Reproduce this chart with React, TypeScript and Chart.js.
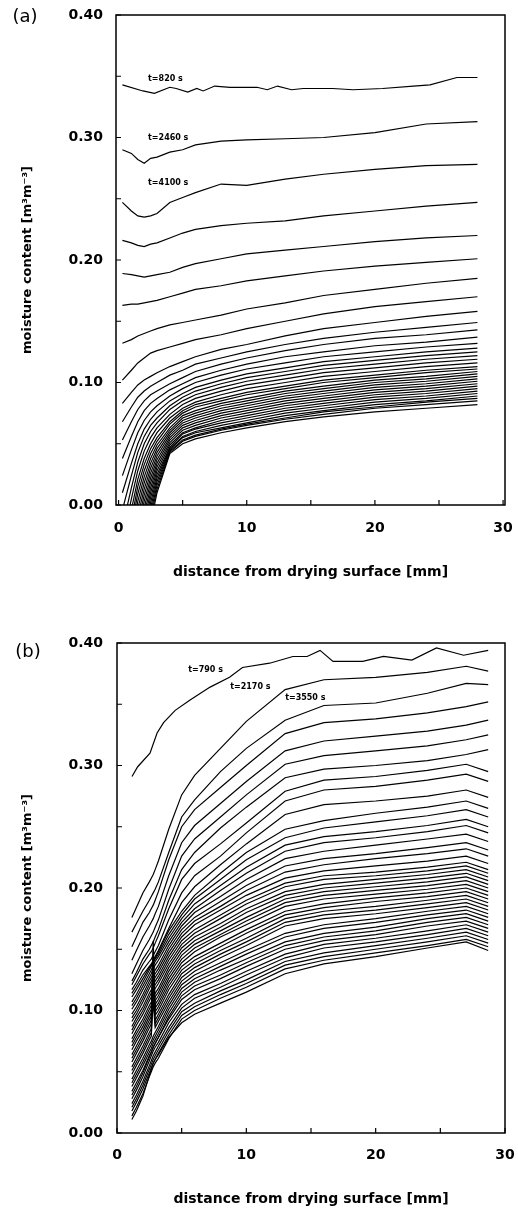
import React, { useEffect, useRef } from "react";
import { Chart, registerables } from "chart.js";

Chart.register(...registerables);

// ---------- Panel (a) data ----------
const distanceA = [0.3, 1, 1.5, 2, 2.5, 3, 4, 5, 6, 8, 10, 13, 16, 20, 24, 28];
const t820Distance = [0.3, 1.9, 2.8, 4.0, 4.5, 5.4, 6.1, 6.6, 7.5, 8.7, 10.8, 11.6, 12.4, 13.5, 14.4, 16.7, 18.3, 20.6, 23.0, 24.3, 26.4, 28.0];
const t820Moisture = [0.343, 0.338, 0.336, 0.341, 0.340, 0.337, 0.340, 0.338, 0.342, 0.341, 0.341, 0.339, 0.342, 0.339, 0.340, 0.340, 0.339, 0.340, 0.342, 0.343, 0.349, 0.349];
const profilesA: (number | null)[][] = [
  [0.290, 0.287, 0.282, 0.279, 0.283, 0.284, 0.288, 0.290, 0.294, 0.297, 0.298, 0.299, 0.300, 0.304, 0.311, 0.313],
  [0.247, 0.240, 0.236, 0.235, 0.236, 0.238, 0.247, 0.251, 0.255, 0.262, 0.261, 0.266, 0.270, 0.274, 0.277, 0.278],
  [0.216, 0.214, 0.212, 0.211, 0.213, 0.214, 0.218, 0.222, 0.225, 0.228, 0.230, 0.232, 0.236, 0.240, 0.244, 0.247],
  [0.189, 0.188, 0.187, 0.186, 0.187, 0.188, 0.190, 0.194, 0.197, 0.201, 0.205, 0.208, 0.211, 0.215, 0.218, 0.220],
  [0.163, 0.164, 0.164, 0.165, 0.166, 0.167, 0.170, 0.173, 0.176, 0.179, 0.183, 0.187, 0.191, 0.195, 0.198, 0.201],
  [0.132, 0.135, 0.138, 0.140, 0.142, 0.144, 0.147, 0.149, 0.151, 0.155, 0.160, 0.165, 0.171, 0.176, 0.181, 0.185],
  [0.102, 0.110, 0.116, 0.120, 0.124, 0.126, 0.129, 0.132, 0.135, 0.139, 0.144, 0.150, 0.156, 0.162, 0.166, 0.170],
  [0.083, 0.092, 0.098, 0.102, 0.105, 0.108, 0.113, 0.117, 0.121, 0.127, 0.131, 0.138, 0.144, 0.149, 0.154, 0.158],
  [0.068, 0.080, 0.088, 0.093, 0.097, 0.100, 0.106, 0.110, 0.115, 0.120, 0.125, 0.131, 0.136, 0.141, 0.145, 0.149],
  [0.053, 0.068, 0.078, 0.085, 0.090, 0.093, 0.099, 0.104, 0.109, 0.115, 0.120, 0.126, 0.131, 0.136, 0.139, 0.143],
  [0.038, 0.056, 0.068, 0.077, 0.083, 0.087, 0.094, 0.099, 0.104, 0.110, 0.115, 0.121, 0.125, 0.130, 0.133, 0.137],
  [0.024, 0.045, 0.059, 0.069, 0.076, 0.081, 0.089, 0.095, 0.100, 0.106, 0.111, 0.116, 0.121, 0.125, 0.129, 0.132],
  [0.010, 0.034, 0.050, 0.062, 0.070, 0.076, 0.085, 0.091, 0.096, 0.102, 0.107, 0.112, 0.117, 0.121, 0.125, 0.128],
  [-0.004, 0.024, 0.043, 0.056, 0.065, 0.071, 0.081, 0.088, 0.093, 0.099, 0.104, 0.109, 0.114, 0.118, 0.122, 0.125],
  [-0.018, 0.014, 0.035, 0.050, 0.060, 0.067, 0.078, 0.085, 0.090, 0.096, 0.101, 0.106, 0.111, 0.115, 0.119, 0.122],
  [-0.030, 0.005, 0.028, 0.044, 0.055, 0.063, 0.074, 0.082, 0.087, 0.093, 0.098, 0.103, 0.108, 0.112, 0.116, 0.119],
  [null, -0.004, 0.021, 0.038, 0.050, 0.059, 0.071, 0.079, 0.084, 0.090, 0.095, 0.100, 0.105, 0.109, 0.113, 0.116],
  [null, -0.012, 0.015, 0.033, 0.046, 0.055, 0.068, 0.077, 0.082, 0.087, 0.092, 0.097, 0.102, 0.106, 0.110, 0.113],
  [null, -0.018, 0.009, 0.028, 0.042, 0.052, 0.066, 0.075, 0.080, 0.085, 0.090, 0.095, 0.100, 0.104, 0.108, 0.111],
  [null, -0.024, 0.003, 0.023, 0.038, 0.049, 0.063, 0.073, 0.077, 0.083, 0.087, 0.093, 0.097, 0.102, 0.105, 0.109],
  [null, -0.030, -0.003, 0.018, 0.034, 0.046, 0.061, 0.071, 0.075, 0.081, 0.085, 0.091, 0.095, 0.100, 0.103, 0.107],
  [null, null, -0.009, 0.013, 0.030, 0.043, 0.059, 0.069, 0.073, 0.079, 0.083, 0.089, 0.093, 0.098, 0.101, 0.105],
  [null, null, -0.015, 0.008, 0.026, 0.040, 0.057, 0.067, 0.071, 0.077, 0.081, 0.087, 0.091, 0.096, 0.099, 0.103],
  [null, null, -0.021, 0.003, 0.022, 0.037, 0.055, 0.065, 0.069, 0.075, 0.079, 0.085, 0.089, 0.094, 0.097, 0.101],
  [null, null, -0.027, -0.002, 0.018, 0.034, 0.053, 0.063, 0.067, 0.073, 0.077, 0.083, 0.087, 0.092, 0.095, 0.099],
  [null, null, null, -0.007, 0.014, 0.031, 0.051, 0.061, 0.065, 0.071, 0.075, 0.081, 0.085, 0.090, 0.093, 0.097],
  [null, null, null, -0.012, 0.010, 0.028, 0.049, 0.059, 0.063, 0.069, 0.073, 0.079, 0.083, 0.088, 0.091, 0.095],
  [null, null, null, -0.017, 0.006, 0.025, 0.047, 0.058, 0.062, 0.067, 0.071, 0.077, 0.081, 0.086, 0.089, 0.093],
  [null, null, null, -0.022, 0.002, 0.022, 0.046, 0.056, 0.060, 0.065, 0.069, 0.075, 0.079, 0.084, 0.087, 0.091],
  [null, null, null, -0.027, -0.002, 0.019, 0.045, 0.055, 0.059, 0.063, 0.067, 0.073, 0.077, 0.082, 0.085, 0.089],
  [null, null, null, null, -0.006, 0.016, 0.044, 0.053, 0.057, 0.062, 0.066, 0.071, 0.076, 0.080, 0.084, 0.087],
  [null, null, null, null, -0.010, 0.013, 0.043, 0.052, 0.056, 0.061, 0.065, 0.070, 0.074, 0.079, 0.082, 0.085],
  [null, null, null, null, -0.015, 0.010, 0.042, 0.050, 0.054, 0.059, 0.063, 0.068, 0.072, 0.076, 0.079, 0.082],
];
const curveLabelsA = ["t=820 s", "t=2460 s", "t=4100 s"];

// ---------- Panel (b) data ----------
const distanceB = [1.15, 1.5, 2, 2.5, 2.65, 2.8, 2.95, 3.2, 4, 5, 6, 8, 10, 13, 16, 20, 24, 27, 28.7];
const t790Distance = [1.16, 1.6, 2.55, 3.1, 3.6, 4.5, 5.65, 7.2, 8.7, 9.7, 11.8, 13.6, 14.7, 15.7, 16.7, 19, 20.6, 22.8, 24.7, 26.8, 28.7];
const t790Moisture = [0.291, 0.299, 0.310, 0.3265, 0.335, 0.345, 0.3535, 0.364, 0.372, 0.380, 0.3835, 0.389, 0.389, 0.394, 0.385, 0.385, 0.389, 0.386, 0.396, 0.390, 0.394];
const profilesB: (number | null)[][] = [
  [0.176, 0.184, 0.196, 0.205, 0.208, 0.211, 0.215, 0.222, 0.248, 0.276, 0.292, 0.314, 0.336, 0.362, 0.370, 0.372, 0.376, 0.381, 0.377],
  [0.164, 0.171, 0.181, 0.190, 0.193, 0.196, 0.199, 0.205, 0.229, 0.258, 0.272, 0.295, 0.314, 0.337, 0.349, 0.351, 0.359, 0.367, 0.366],
  [0.152, 0.160, 0.172, 0.180, 0.183, 0.186, 0.190, 0.197, 0.223, 0.250, 0.264, 0.282, 0.300, 0.326, 0.335, 0.338, 0.343, 0.348, 0.352],
  [0.141, 0.149, 0.160, 0.169, 0.172, 0.175, 0.179, 0.185, 0.210, 0.237, 0.251, 0.269, 0.287, 0.312, 0.320, 0.324, 0.328, 0.333, 0.337],
  [0.130, 0.138, 0.149, 0.158, 0.161, 0.164, 0.168, 0.174, 0.199, 0.226, 0.240, 0.258, 0.276, 0.301, 0.308, 0.312, 0.316, 0.321, 0.325],
  [0.124, 0.131, 0.142, 0.150, 0.153, 0.156, 0.160, 0.166, 0.190, 0.215, 0.229, 0.249, 0.266, 0.290, 0.297, 0.300, 0.304, 0.309, 0.313],
  [0.121, 0.128, 0.138, 0.146, 0.148, 0.151, 0.155, 0.161, 0.183, 0.207, 0.220, 0.236, 0.253, 0.279, 0.288, 0.291, 0.296, 0.301, 0.295],
  [0.117, 0.123, 0.133, 0.140, 0.142, 0.145, 0.148, 0.153, 0.174, 0.196, 0.210, 0.226, 0.245, 0.271, 0.280, 0.283, 0.288, 0.293, 0.287],
  [0.114, 0.120, 0.129, 0.136, 0.138, 0.141, 0.144, 0.149, 0.167, 0.188, 0.201, 0.219, 0.236, 0.260, 0.268, 0.271, 0.275, 0.280, 0.274],
  [0.111, 0.117, 0.126, 0.135, 0.137, 0.140, 0.143, 0.148, 0.165, 0.181, 0.194, 0.212, 0.229, 0.248, 0.255, 0.261, 0.266, 0.271, 0.265],
  [0.107, 0.113, 0.123, 0.133, 0.136, 0.139, 0.142, 0.146, 0.162, 0.178, 0.191, 0.207, 0.223, 0.241, 0.249, 0.254, 0.259, 0.264, 0.258],
  [0.104, 0.110, 0.120, 0.130, 0.133, 0.137, 0.140, 0.144, 0.159, 0.175, 0.187, 0.202, 0.217, 0.235, 0.242, 0.246, 0.251, 0.256, 0.250],
  [0.101, 0.107, 0.117, 0.127, 0.130, 0.134, 0.137, 0.141, 0.156, 0.172, 0.183, 0.198, 0.212, 0.230, 0.237, 0.241, 0.246, 0.251, 0.245],
  [0.097, 0.103, 0.113, 0.124, 0.127, 0.130, 0.133, 0.137, 0.153, 0.169, 0.180, 0.193, 0.207, 0.224, 0.230, 0.235, 0.240, 0.244, 0.238],
  [0.094, 0.100, 0.110, 0.121, 0.124, 0.127, 0.130, 0.134, 0.150, 0.166, 0.176, 0.189, 0.202, 0.218, 0.224, 0.228, 0.233, 0.237, 0.231],
  [0.091, 0.097, 0.107, 0.118, 0.121, 0.124, 0.127, 0.131, 0.147, 0.163, 0.173, 0.185, 0.198, 0.213, 0.219, 0.224, 0.228, 0.232, 0.226],
  [0.087, 0.094, 0.103, 0.114, 0.117, 0.121, 0.124, 0.128, 0.144, 0.160, 0.170, 0.182, 0.194, 0.208, 0.214, 0.218, 0.222, 0.226, 0.220],
  [0.084, 0.091, 0.100, 0.111, 0.114, 0.118, 0.121, 0.125, 0.141, 0.157, 0.166, 0.178, 0.190, 0.204, 0.210, 0.213, 0.217, 0.221, 0.215],
  [0.081, 0.088, 0.097, 0.108, 0.111, 0.115, 0.118, 0.122, 0.138, 0.154, 0.163, 0.175, 0.187, 0.201, 0.207, 0.210, 0.214, 0.218, 0.212],
  [0.077, 0.084, 0.093, 0.104, 0.107, 0.111, 0.114, 0.118, 0.135, 0.151, 0.160, 0.171, 0.183, 0.197, 0.203, 0.207, 0.211, 0.215, 0.209],
  [0.074, 0.081, 0.090, 0.101, 0.104, 0.108, 0.111, 0.115, 0.132, 0.148, 0.157, 0.168, 0.180, 0.194, 0.200, 0.204, 0.208, 0.212, 0.206],
  [0.071, 0.078, 0.087, 0.098, 0.101, 0.105, 0.108, 0.112, 0.129, 0.145, 0.154, 0.165, 0.176, 0.191, 0.197, 0.201, 0.205, 0.209, 0.203],
  [0.068, 0.075, 0.084, 0.095, 0.098, 0.102, 0.105, 0.109, 0.126, 0.142, 0.151, 0.162, 0.173, 0.188, 0.194, 0.198, 0.202, 0.206, 0.200],
  [0.064, 0.071, 0.081, 0.092, 0.095, 0.157, 0.102, 0.106, 0.123, 0.139, 0.148, 0.160, 0.170, 0.185, 0.191, 0.195, 0.199, 0.203, 0.197],
  [0.061, 0.068, 0.078, 0.089, 0.092, 0.148, 0.099, 0.103, 0.120, 0.136, 0.144, 0.155, 0.166, 0.181, 0.187, 0.192, 0.196, 0.200, 0.194],
  [0.058, 0.065, 0.075, 0.086, 0.089, 0.140, 0.096, 0.100, 0.117, 0.133, 0.141, 0.152, 0.163, 0.178, 0.184, 0.189, 0.193, 0.197, 0.191],
  [0.054, 0.061, 0.071, 0.082, 0.085, 0.131, 0.092, 0.097, 0.113, 0.130, 0.138, 0.149, 0.159, 0.175, 0.181, 0.185, 0.190, 0.194, 0.188],
  [0.051, 0.058, 0.068, 0.079, 0.082, 0.120, 0.089, 0.094, 0.110, 0.127, 0.135, 0.146, 0.156, 0.172, 0.178, 0.182, 0.187, 0.191, 0.185],
  [0.048, 0.055, 0.065, 0.076, 0.079, 0.108, 0.086, 0.091, 0.107, 0.124, 0.132, 0.143, 0.153, 0.169, 0.175, 0.179, 0.184, 0.188, 0.182],
  [0.044, 0.051, 0.061, 0.072, 0.075, 0.079, 0.082, 0.087, 0.104, 0.121, 0.129, 0.139, 0.149, 0.163, 0.170, 0.175, 0.181, 0.185, 0.179],
  [0.041, 0.048, 0.058, 0.069, 0.072, 0.076, 0.079, 0.084, 0.101, 0.118, 0.126, 0.136, 0.146, 0.160, 0.167, 0.172, 0.178, 0.182, 0.176],
  [0.038, 0.045, 0.055, 0.066, 0.069, 0.073, 0.076, 0.081, 0.098, 0.115, 0.123, 0.133, 0.142, 0.156, 0.163, 0.168, 0.175, 0.179, 0.173],
  [0.034, 0.041, 0.051, 0.063, 0.066, 0.070, 0.073, 0.078, 0.095, 0.112, 0.120, 0.129, 0.139, 0.153, 0.160, 0.165, 0.172, 0.176, 0.170],
  [0.031, 0.038, 0.049, 0.062, 0.066, 0.070, 0.073, 0.078, 0.093, 0.109, 0.117, 0.126, 0.136, 0.150, 0.157, 0.162, 0.169, 0.173, 0.167],
  [0.028, 0.035, 0.046, 0.059, 0.063, 0.067, 0.070, 0.074, 0.090, 0.105, 0.113, 0.122, 0.132, 0.146, 0.154, 0.159, 0.165, 0.170, 0.164],
  [0.024, 0.031, 0.042, 0.055, 0.059, 0.063, 0.066, 0.071, 0.086, 0.102, 0.110, 0.119, 0.129, 0.143, 0.151, 0.156, 0.162, 0.167, 0.161],
  [0.021, 0.028, 0.039, 0.052, 0.056, 0.060, 0.063, 0.068, 0.083, 0.099, 0.106, 0.116, 0.125, 0.140, 0.147, 0.153, 0.159, 0.164, 0.158],
  [0.018, 0.025, 0.036, 0.049, 0.053, 0.057, 0.060, 0.065, 0.080, 0.096, 0.103, 0.113, 0.122, 0.137, 0.144, 0.150, 0.156, 0.161, 0.155],
  [0.014, 0.021, 0.032, 0.046, 0.050, 0.054, 0.057, 0.061, 0.077, 0.093, 0.100, 0.110, 0.119, 0.134, 0.141, 0.147, 0.153, 0.158, 0.152],
  [0.011, 0.018, 0.030, 0.047, 0.052, 0.057, 0.060, 0.064, 0.078, 0.090, 0.097, 0.106, 0.115, 0.130, 0.138, 0.144, 0.151, 0.156, 0.149],
];
const curveLabelsB = ["t=790 s", "t=2170 s", "t=3550 s"];

// ---------- Axis ticks ----------
const xTickValues = [0, 5, 10, 15, 20, 25, 30];
const xTickLabels = ["0", "", "10", "", "20", "", "30"];
const yTickValues = [0, 0.05, 0.1, 0.15, 0.2, 0.25, 0.3, 0.35, 0.4];
const yTickLabels = ["0.00", "", "0.10", "", "0.20", "", "0.30", "", "0.40"];

const X_TITLE = "distance from drying surface [mm]";
const Y_TITLE = "moisture content [m³m⁻³]";
const FONT = "DejaVu Sans";

type PanelProps = {
  letter: string;
  top: number;
  height: number;
  xMin: number;
  xMax: number;
  padTop: number;
  yWidth: number;
  xHeight: number;
  xTickPad: number;
  yTickPad: number;
  xTitlePad: number;
  firstX: number[];
  firstY: number[];
  gridX: number[];
  profiles: (number | null)[][];
  labels: string[];
  labelAnchors: { x: number; y: number }[];
  letterPos: { x: number; y: number };
};

function Panel(p: PanelProps) {
  const ref = useRef<HTMLCanvasElement | null>(null);
  useEffect(() => {
    if (!ref.current) return;
    const mk = (xs: number[], ys: (number | null)[]) => xs.map((x, i) => ({ x, y: ys[i] }));
    const series = [mk(p.firstX, p.firstY), ...p.profiles.map((ys) => mk(p.gridX, ys))];
    const datasets = series.map((data) => ({
      data,
      borderColor: "#000",
      borderWidth: 1.2,
      pointRadius: 0,
      fill: false,
      tension: 0,
      spanGaps: false,
    }));
    const frame = {
      id: "frame",
      afterDraw(chart: any) {
        const { ctx, chartArea } = chart;
        const { left, top, right, bottom } = chartArea;
        const xs = chart.scales.x;
        const ys = chart.scales.y;
        ctx.save();
        ctx.strokeStyle = "#000";
        ctx.lineWidth = 1.5;
        ctx.strokeRect(left, top, right - left, bottom - top);
        ctx.lineWidth = 1.2;
        ctx.beginPath();
        xTickValues.forEach((v) => {
          const px = xs.getPixelForValue(v);
          ctx.moveTo(px, bottom);
          ctx.lineTo(px, bottom - 5);
        });
        yTickValues.forEach((v) => {
          const py = ys.getPixelForValue(v);
          ctx.moveTo(left, py);
          ctx.lineTo(left + 5, py);
        });
        ctx.stroke();
        ctx.fillStyle = "#000";
        ctx.font = `bold 8px "${FONT}"`;
        ctx.textAlign = "left";
        ctx.textBaseline = "middle";
        p.labels.forEach((t, i) => {
          const a = p.labelAnchors[i];
          ctx.fillText(t, xs.getPixelForValue(a.x), ys.getPixelForValue(a.y));
        });
        ctx.font = `18px "${FONT}"`;
        ctx.textAlign = "center";
        ctx.fillText(p.letter, p.letterPos.x, p.letterPos.y);
        ctx.restore();
      },
    };
    const tickFont = { family: FONT, size: 14, weight: "bold" as const };
    const chart = new Chart(ref.current, {
      type: "line",
      data: { datasets: datasets as any },
      options: {
        animation: false,
        responsive: false,
        maintainAspectRatio: false,
        devicePixelRatio: 1,
        layout: { padding: { left: 0, top: p.padTop, right: 13, bottom: 0 } },
        plugins: { legend: { display: false }, tooltip: { enabled: false } },
        scales: {
          x: {
            type: "linear",
            min: p.xMin,
            max: p.xMax,
            afterBuildTicks: (s: any) => {
              s.ticks = xTickValues.map((v) => ({ value: v }));
            },
            afterFit: (s: any) => {
              s.height = p.xHeight;
              s.paddingLeft = 0;
              s.paddingRight = 0;
            },
            ticks: {
              autoSkip: false,
              maxRotation: 0,
              padding: p.xTickPad,
              color: "#000",
              font: tickFont,
              callback: (_v: any, i: number) => xTickLabels[i],
            },
            grid: { display: false, drawTicks: false },
            border: { display: false },
            title: {
              display: true,
              text: X_TITLE,
              color: "#000",
              font: { family: FONT, size: 14, weight: "bold" },
              padding: { top: 0, bottom: p.xTitlePad },
            },
          },
          y: {
            type: "linear",
            min: 0,
            max: 0.4,
            afterBuildTicks: (s: any) => {
              s.ticks = yTickValues.map((v) => ({ value: v }));
            },
            afterFit: (s: any) => {
              s.width = p.yWidth;
              s.paddingTop = 0;
              s.paddingBottom = 0;
            },
            ticks: {
              autoSkip: false,
              padding: p.yTickPad,
              color: "#000",
              font: tickFont,
              callback: (_v: any, i: number) => yTickLabels[i],
            },
            grid: { display: false, drawTicks: false },
            border: { display: false },
            title: {
              display: true,
              text: Y_TITLE,
              color: "#000",
              font: { family: FONT, size: 13, weight: "bold" },
              padding: { top: 20, bottom: 0 },
            },
          },
        },
      } as any,
      plugins: [frame],
    });
    return () => chart.destroy();
  }, []);
  return (
    <canvas
      ref={ref}
      width={518}
      height={p.height}
      style={{ position: "absolute", left: 0, top: p.top, width: 518, height: p.height }}
    />
  );
}

export default function App() {
  return (
    <div style={{ position: "absolute", left: 0, top: 0, width: 518, height: 1209, background: "#fff", overflow: "hidden" }}>
      <Panel
        letter="(a)"
        top={0}
        height={600}
        xMin={-0.2}
        xMax={30.15}
        padTop={15}
        yWidth={116}
        xHeight={95}
        xTickPad={15}
        yTickPad={13}
        xTitlePad={19}
        firstX={t820Distance}
        firstY={t820Moisture}
        gridX={distanceA}
        profiles={profilesA}
        labels={curveLabelsA}
        labelAnchors={[
          { x: 2.3, y: 0.348 },
          { x: 2.3, y: 0.3 },
          { x: 2.3, y: 0.263 },
        ]}
        letterPos={{ x: 25, y: 17 }}
      />
      <Panel
        letter="(b)"
        top={615}
        height={594}
        xMin={0}
        xMax={30}
        padTop={28}
        yWidth={117}
        xHeight={76}
        xTickPad={14}
        yTickPad={14}
        xTitlePad={1}
        firstX={t790Distance}
        firstY={t790Moisture}
        gridX={distanceB}
        profiles={profilesB}
        labels={curveLabelsB}
        labelAnchors={[
          { x: 5.5, y: 0.378 },
          { x: 8.75, y: 0.364 },
          { x: 13.0, y: 0.355 },
        ]}
        letterPos={{ x: 28, y: 37 }}
      />
    </div>
  );
}
